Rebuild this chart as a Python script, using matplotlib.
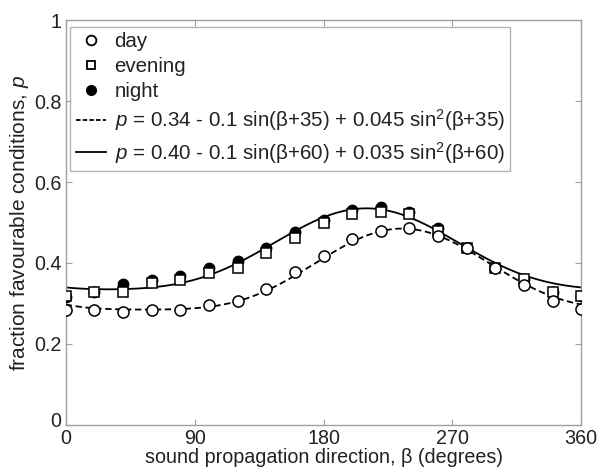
import numpy as np
import matplotlib
matplotlib.use("Agg")
import matplotlib.pyplot as plt
import matplotlib.transforms as mtransforms
from matplotlib.lines import Line2D

plt.rcParams['font.family'] = ['Liberation Sans', 'DejaVu Sans']
plt.rcParams['mathtext.fontset'] = 'custom'
plt.rcParams['mathtext.rm'] = 'Liberation Sans'
plt.rcParams['mathtext.it'] = 'Liberation Sans:italic'

# ---- data ----
beta = [0, 20, 40, 60, 80, 100, 120, 140, 160, 180, 200, 220, 240, 260, 280, 300, 320, 340, 360]
day = [0.285, 0.285, 0.278, 0.285, 0.285, 0.296, 0.306, 0.336, 0.378, 0.417, 0.459, 0.479, 0.487,
       0.467, 0.437, 0.388, 0.346, 0.307, 0.286]
evening = [0.318, 0.329, 0.329, 0.350, 0.358, 0.375, 0.388, 0.425, 0.462, 0.498, 0.520, 0.527, 0.520,
           0.480, 0.436, 0.388, 0.360, 0.329, 0.318]
night = [0.317, 0.329, 0.348, 0.358, 0.368, 0.388, 0.406, 0.437, 0.476, 0.506, 0.531, 0.538, 0.527,
         0.486, 0.436, 0.388, 0.360, 0.329, 0.318]

# fit coefficients shown in the legend: p = a - b sin(beta+c) + d sin^2(beta+c)
fit_day = [0.34, 0.1, 35, 0.045]
fit_night = [0.40, 0.1, 60, 0.035]

xticks = [0, 90, 180, 270, 360]
yticks = [0, 0.2, 0.4, 0.6, 0.8, 1]
ytick_labels = ['0', '0.2', '0.4', '0.6', '0.8', '1']


def fit_curve(coef, b):
    a, bb, c, d = coef
    s = np.sin(np.radians(np.asarray(b) + c))
    return a - bb * s + d * s ** 2


FS = 14.2
fig = plt.figure(figsize=(5.98, 4.72), dpi=100)
ax = fig.add_axes([0.110, 0.0996, 0.862, 0.858])

bb = np.linspace(0, 360, 361)
ax.plot(bb, fit_curve(fit_day, bb), color='black', lw=1.3, ls=(0, (3.5, 2)), zorder=2)
ax.plot(bb, fit_curve(fit_night, bb), color='black', lw=1.3, ls='-', zorder=2)

ax.plot(beta, night, ls='none', marker='o', ms=7.5, mfc='black', mec='black', zorder=3)
ax.plot(beta, evening, ls='none', marker='s', ms=6.5, mfc='white', mec='black', mew=1.1, zorder=4)
ax.plot(beta, day, ls='none', marker='o', ms=8, mfc='white', mec='black', mew=1.1, zorder=4)

ax.set_xlim(0, 360)
ax.set_ylim(0, 1)
ax.set_xticks(xticks)
ax.set_yticks(yticks)
ax.set_yticklabels(ytick_labels)

gray = '#a0a0a0'
for s in ax.spines.values():
    s.set_color(gray)
    s.set_linewidth(1.0)
ax.tick_params(direction='in', length=4, width=0.8, color=gray, top=True, right=True,
               labelsize=FS, labelcolor='#222222')
ax.tick_params(axis='x', pad=3)
ax.tick_params(axis='y', pad=3)
# lift the y "0" label a little so it does not touch the x "0" label
lab0 = ax.get_yticklabels()[0]
lab0.set_transform(lab0.get_transform() + mtransforms.ScaledTranslation(0, 5 / 100, fig.dpi_scale_trans))

ax.set_xlabel('sound propagation direction, β (degrees)', fontsize=FS, color='#222222', labelpad=0)
ax.set_ylabel('fraction favourable conditions, $p$', fontsize=15, color='#222222', labelpad=2)

handles = [
    Line2D([], [], ls='none', marker='o', ms=7, mfc='white', mec='black', mew=1.3),
    Line2D([], [], ls='none', marker='s', ms=6, mfc='white', mec='black', mew=1.3),
    Line2D([], [], ls='none', marker='o', ms=7, mfc='black', mec='black'),
    Line2D([], [], color='black', lw=1.3, ls=(0, (2.5, 1.2))),
    Line2D([], [], color='black', lw=1.3, ls='-'),
]
labels = [
    'day', 'evening', 'night',
    r'$p$ = 0.34 - 0.1 sin(β+35) + 0.045 sin$^2$(β+35)',
    r'$p$ = 0.40 - 0.1 sin(β+60) + 0.035 sin$^2$(β+60)',
]
leg = ax.legend(handles, labels, loc='upper left', bbox_to_anchor=(0.009, 0.983),
                fontsize=14.8, frameon=True, fancybox=False, borderaxespad=0,
                handlelength=1.5, handletextpad=0.4, labelspacing=0.3, borderpad=0.25)
leg.get_frame().set_edgecolor(gray)
leg.get_frame().set_linewidth(1.0)
for t in leg.get_texts():
    t.set_color('#222222')

fig.savefig('out.png', dpi=100)
